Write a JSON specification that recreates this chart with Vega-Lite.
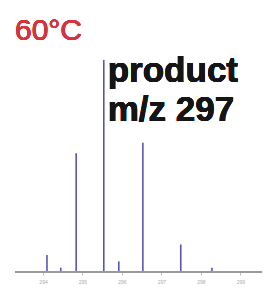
{
  "$schema": "https://vega.github.io/schema/vega-lite/v6.json",
  "width": 266,
  "height": 297,
  "autosize": {"type": "none"},
  "padding": 0,
  "background": "white",
  "config": {"view": {"stroke": null}},
  "data": {"values": [
    {"mz": 294.10, "intensity": 8},
    {"mz": 294.45, "intensity": 2},
    {"mz": 294.84, "intensity": 56},
    {"mz": 295.54, "intensity": 100},
    {"mz": 295.92, "intensity": 5},
    {"mz": 296.53, "intensity": 61},
    {"mz": 297.49, "intensity": 13},
    {"mz": 298.28, "intensity": 2}
  ]},
  "layer": [
    {
      "mark": {"type": "rule", "color": "#5656b0", "strokeWidth": 1.6},
      "encoding": {
        "x": {"field": "mz", "type": "quantitative",
              "scale": {"domain": [292.91, 299.65], "nice": false, "zero": false},
              "axis": {"values": [294, 295, 296, 297, 298, 299], "orient": "bottom", "offset": -25,
                       "title": null, "domain": false,
                       "tickColor": "#bbb", "tickSize": 3, "labelFontSize": 5,
                       "labelColor": "#aaa", "labelPadding": 4, "grid": false}},
        "y": {"field": "intensity", "type": "quantitative",
              "scale": {"domain": [-11.8, 128.3], "nice": false, "zero": false}, "axis": null},
        "y2": {"datum": 0}
      }
    },
    {
      "mark": {"type": "rule", "color": "#999999", "strokeWidth": 1.2},
      "encoding": {
        "x": {"datum": 293.29, "type": "quantitative"},
        "x2": {"datum": 299.55},
        "y": {"datum": 0, "type": "quantitative"},
        "y2": {"datum": 0}
      }
    },
    {
      "mark": {"type": "text", "text": "60°C", "font": "Liberation Sans", "fontSize": 30, "color": "#d6333d", "align": "left", "baseline": "alphabetic"},
      "encoding": {"x": {"datum": 293.29, "type": "quantitative"}, "y": {"datum": 109.4, "type": "quantitative"}}
    },
    {
      "mark": {"type": "text", "text": "product", "font": "Liberation Sans", "fontSize": 35, "fontWeight": "bold", "color": "#151515", "align": "left", "baseline": "alphabetic"},
      "encoding": {"x": {"datum": 295.64, "type": "quantitative"}, "y": {"datum": 89.6, "type": "quantitative"}}
    },
    {
      "mark": {"type": "text", "text": "m/z 297", "font": "Liberation Sans", "fontSize": 35, "fontWeight": "bold", "color": "#151515", "align": "left", "baseline": "alphabetic"},
      "encoding": {"x": {"datum": 295.64, "type": "quantitative"}, "y": {"datum": 71.2, "type": "quantitative"}}
    }
  ]
}
